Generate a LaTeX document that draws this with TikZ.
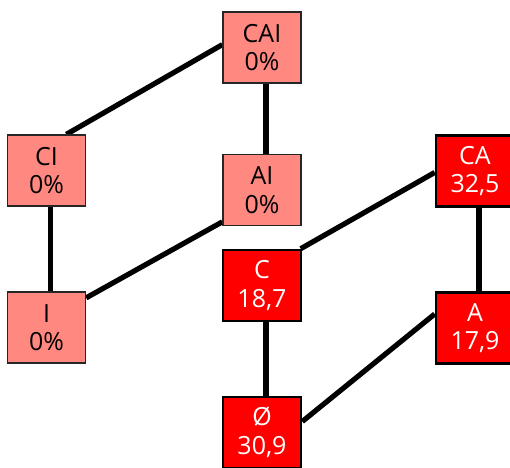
\documentclass[tikz,border=0pt]{standalone}
\usepackage{fontspec}
\setmainfont{Open Sans}
\usetikzlibrary{calc,backgrounds}
\definecolor{lightred}{RGB}{255,136,128}
\definecolor{fullred}{RGB}{255,0,0}
\begin{document}
\begin{tikzpicture}[x=1pt,y=-1pt,
  box/.style={minimum width=78pt,minimum height=71pt,inner sep=0pt,align=center,
    font=\fontsize{25}{28.5}\selectfont,execute at begin node={\rule{0pt}{25pt}}},
  lite/.style={box,fill=lightred,draw=black!85,line width=1.3pt,text=black},
  dark/.style={box,fill=fullred,draw=black,line width=2.6pt,text=white},
  conn/.style={line width=5.2pt,black}]
\useasboundingbox (0,0) rectangle (510,467);
\clip (0,0) rectangle (510,467);
\node[lite] (CAI) at (262,47.5) {CAI\\0\%};
\node[lite] (CI) at (46.5,170.5) {CI\\0\%};
\node[lite] (AI) at (262,190) {AI\\0\%};
\node[lite] (I) at (46.5,327.5) {I\\0\%};
\node[dark] (C) at (262,285.5) {C\\18,7};
\node[dark] (CA) at (475,171) {CA\\32,5};
\node[dark] (A) at (475,328) {A\\17,9};
\node[dark] (E) at (262,432.5) {Ø\\30,9};
\begin{scope}[on background layer]
\draw[conn] ($(CAI.north west)!0.46!(CAI.south west)$) -- ($(CI.north west)!0.75!(CI.north east)$);
\draw[conn] ($(AI.north west)!0.94!(AI.south west)$) -- ($(I.north east)!0.09!(I.south east)$);
\draw[conn] ($(C.north west)!0.98!(C.north east)$) -- ($(CA.north west)!0.52!(CA.south west)$);
\draw[conn] ($(A.north west)!0.31!(A.south west)$) -- ($(E.north east)!0.35!(E.south east)$);
\draw[conn] ([xshift=4pt]CAI.south) -- ([xshift=4pt]AI.north);
\draw[conn] ([xshift=4pt]CI.south) -- ([xshift=4pt]I.north);
\draw[conn] ([xshift=4pt]C.south) -- ([xshift=4pt]E.north);
\draw[conn] ([xshift=4pt]CA.south) -- ([xshift=4pt]A.north);
\end{scope}
\end{tikzpicture}
\end{document}
